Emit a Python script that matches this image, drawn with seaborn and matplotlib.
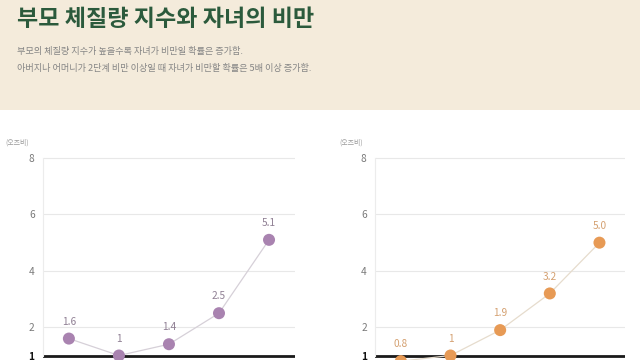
import matplotlib
matplotlib.use("Agg")
import matplotlib.pyplot as plt
from matplotlib.patches import Rectangle
import pandas as pd
import seaborn as sns

# 부모 BMI 단계별 자녀 비만 오즈비 (x축 라벨은 원본에서 잘려 보이지 않음)
categories = ["저체중", "정상", "과체중", "1단계 비만", "2단계 비만"]
father_odds = [1.6, 1.0, 1.4, 2.5, 5.1]
mother_odds = [0.8, 1.0, 1.9, 3.2, 5.0]
father_labels = ["1.6", "1", "1.4", "2.5", "5.1"]
mother_labels = ["0.8", "1", "1.9", "3.2", "5.0"]
y_ticks = [2, 4, 6, 8]

title = "부모 체질량 지수와 자녀의 비만"
subtitle_1 = "부모의 체질량 지수가 높을수록 자녀가 비만일 확률은 증가함."
subtitle_2 = "아버지나 어머니가 2단계 비만 이상일 때 자녀가 비만할 확률은 5배 이상 증가함."
unit_label = "(오즈비)"

sns.set_theme(style="white")
plt.rcParams["font.family"] = ["Noto Sans CJK KR", "DejaVu Sans"]

fig = plt.figure(figsize=(6.4, 3.6), dpi=100)
fig.patch.set_facecolor("white")

# ── Header band ──────────────────────────────────────────────
fig.patches.append(Rectangle((0, 0.694), 1, 0.306, transform=fig.transFigure,
                             facecolor="#f4ebdb", edgecolor="none", zorder=0))
fig.text(0.026, 0.946, title, fontsize=16.6, fontweight="black", color="#2b5a3c",
         va="center", ha="left")
fig.text(0.027, 0.856, subtitle_1, fontsize=6.6, color="#858585", va="center")
fig.text(0.027, 0.811, subtitle_2, fontsize=6.6, color="#858585", va="center")


def draw_panel(rect, values, labels, line_color, dot_color, text_color):
    ax = fig.add_axes(rect)
    df = pd.DataFrame({"pos": range(len(categories)), "odds": values})
    for y in y_ticks:
        ax.axhline(y, color="#e8e8e8", lw=0.8, zorder=0)
    ax.axhline(1, color="#1a1a1a", lw=2.0, zorder=1)
    sns.lineplot(data=df, x="pos", y="odds", ax=ax, color=line_color, lw=0.9,
                 zorder=2, legend=False)
    sns.scatterplot(data=df, x="pos", y="odds", ax=ax, color=dot_color, s=75,
                    edgecolor="none", zorder=3, legend=False)
    for x, y, lab in zip(df["pos"], df["odds"], labels):
        ax.annotate(lab, (x, y), xytext=(0, 8.5), textcoords="offset points",
                    ha="center", va="bottom", fontsize=7.3, color=text_color)
    ax.set_xlim(-0.52, 4.52)
    ax.set_ylim(0.5, 8.2)
    ax.set_yticks([1] + y_ticks)
    ax.set_yticklabels(["1"] + [str(t) for t in y_ticks])
    ax.tick_params(axis="y", length=0, pad=6, labelsize=7.3, labelcolor="#7a7a7a")
    ax.get_yticklabels()[0].set_fontweight("bold")
    ax.get_yticklabels()[0].set_color("#111111")
    ax.set_xticks([])
    ax.set_xlabel("")
    ax.set_ylabel("")
    for side in ["top", "right", "bottom"]:
        ax.spines[side].set_visible(False)
    ax.spines["left"].set_color("#ececec")
    ax.spines["left"].set_linewidth(0.8)
    ax.spines["left"].set_bounds(1, 8)
    ax.set_facecolor("none")
    return ax


draw_panel([0.067, -0.0267, 0.394, 0.6034], father_odds, father_labels,
           "#d6d0d8", "#a983b0", "#8f7f93")
draw_panel([0.586, -0.0267, 0.391, 0.6034], mother_odds, mother_labels,
           "#e6dccd", "#e79a55", "#d4a070")

fig.text(0.008, 0.605, unit_label, fontsize=5, color="#9a9a9a", va="center")
fig.text(0.531, 0.605, unit_label, fontsize=5, color="#9a9a9a", va="center")

fig.savefig("out.png", dpi=100)
